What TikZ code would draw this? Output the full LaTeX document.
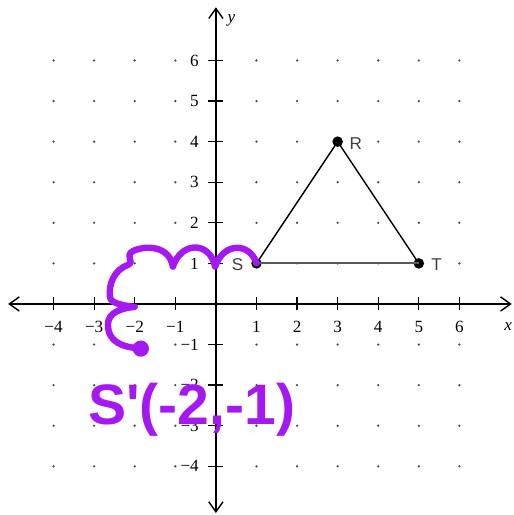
\documentclass[tikz,border=0pt]{standalone}
\usepackage{fontspec}
\setmainfont{Liberation Serif}
\newfontfamily\lsans{Liberation Sans}
\usetikzlibrary{arrows.meta}
\definecolor{pen}{RGB}{165,25,240}
\begin{document}
\begin{tikzpicture}[x=1cm,y=1cm,
  axis/.style={line width=1pt, {Straight Barb[length=7pt,width=10pt]}-{Straight Barb[length=7pt,width=10pt]}},
  tickmark/.style={line width=0.9pt},
  num/.style={font=\fontsize{12}{14}\selectfont, inner sep=1pt},
  vtx/.style={circle, fill=black, inner sep=0pt, minimum size=0.26cm},
  vlab/.style={font=\lsans\fontsize{12}{14}\selectfont, text=black!75, inner sep=1pt},
  side/.style={line width=1pt},
  penline/.style={draw=pen, line width=4.5pt, line cap=round, line join=round},
  pendot/.style={circle, fill=pen, inner sep=0pt, minimum size=0.4cm},
  pentext/.style={font=\lsans\bfseries\fontsize{40}{40}\selectfont, text=pen}]
\useasboundingbox (-5.32,-5.20) rectangle (7.34,7.49);
% grid dots
\foreach \x in {-4,-3,-2,-1,1,2,3,4,5,6}
  \foreach \y in {-4,-3,-2,-1,1,2,3,4,5,6}
    \fill[black!70] (\x,\y) circle (0.9pt);
% axes
\coordinate (xl) at (-5.12,0);
\coordinate (xr) at (7.29,0);
\coordinate (yb) at (0,-5.15);
\coordinate (yt) at (0,7.31);
\draw[axis] (xl) -- (xr);
\draw[axis] (yb) -- (yt);
\node[num] (xlab) at (7.2,-0.55) {\textit{x}};
\node[num] (ylab) at (0.38,6.99) {\textit{y}};
% ticks
\foreach \x/\t in {-4/−4,-3/−3,-2/−2,-1/−1,1/1,2/2,3/3,4/4,5/5,6/6}{
  \draw[tickmark] (\x,-0.16) -- (\x,0.16);
  \node[num] at (\x,-0.57) {\t};
}
\foreach \y/\t in {-4/−4,-3/−3,-2/−2,-1/−1,1/1,2/2,3/3,4/4,5/5,6/6}{
  \draw[tickmark] (-0.2,\y) -- (0.17,\y);
  \node[num, anchor=east] at (-0.38,\y) {\t};
}
% triangle
\node[vtx] (R) at (3,4) {};
\node[vtx] (S) at (1,1) {};
\node[vtx] (T) at (5,1) {};
\draw[side] (S.center) -- (R.center) -- (T.center);
\draw[side, black!65, line width=1.4pt] (S.center) -- (T.center);
\node[vlab, anchor=west] (Rl) at (3.25,3.95) {R};
\node[vlab, anchor=west] (Tl) at (5.27,0.98) {T};
\node[vlab, anchor=east] (Sl) at (0.72,0.98) {S};
% purple annotation
\node[pendot] (S2) at (-1.85,-1.1) {};
\draw[penline] (S.center)
  .. controls (0.85,1.5) and (0.2,1.55) .. (-0.02,0.92)
  .. controls (-0.15,1.55) and (-0.85,1.55) .. (-1.06,0.92)
  .. controls (-1.15,1.45) and (-1.75,1.45) .. (-2.05,1.3)
  .. controls (-2.25,1.2) and (-2.0,1.0) .. (-2.15,0.97)
  .. controls (-2.5,0.85) and (-2.65,0.5) .. (-2.61,0.17)
  .. controls (-2.6,0.0) and (-2.2,-0.05) .. (-2.0,-0.07)
  .. controls (-2.3,-0.1) and (-2.66,-0.2) .. (-2.66,-0.5)
  .. controls (-2.66,-0.95) and (-2.3,-1.06) .. (S2.center);
\node[pentext] (lab) at (-0.6,-2.6) {S'(-2,-1)};
\end{tikzpicture}
\end{document}
